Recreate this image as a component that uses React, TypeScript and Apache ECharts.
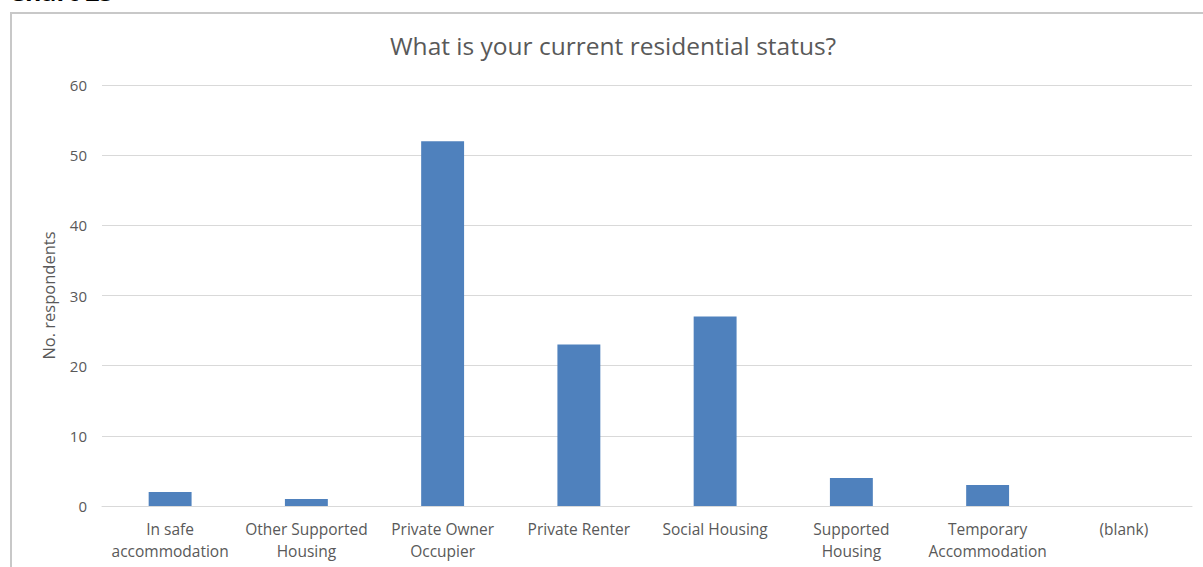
import React, { useEffect, useRef } from "react";
import * as echarts from "echarts";

const categories = [
  "In safe\naccommodation",
  "Other Supported\nHousing",
  "Private Owner\nOccupier",
  "Private Renter",
  "Social Housing",
  "Supported\nHousing",
  "Temporary\nAccommodation",
  "(blank)",
];
const respondents = [2, 1, 52, 23, 27, 4, 3, 0];
const yTicks = { min: 0, max: 60, interval: 10 };
const titleText = "What is your current residential status?";
const yAxisName = "No. respondents";
const captionText = "Chart 25";

const FONT = "'Open Sans', sans-serif";

export default function App() {
  const ref = useRef<HTMLDivElement>(null);
  useEffect(() => {
    if (!ref.current) return;
    const chart = echarts.init(ref.current, undefined, { renderer: "svg" });
    chart.setOption({
      animation: false,
      backgroundColor: "#ffffff",
      textStyle: { fontFamily: FONT },
      title: {
        text: titleText,
        left: 385,
        top: 28,
        textStyle: { fontFamily: FONT, fontSize: 24.5, fontWeight: "normal", color: "#595959" },
      },
      graphic: [
        {
          type: "rect",
          z: -1,
          shape: { x: 11, y: 13, width: 1300, height: 700 },
          style: { fill: "none", stroke: "#c8c8c8", lineWidth: 2 },
        },
        {
          type: "text",
          x: 9,
          y: 3,
          style: {
            text: captionText,
            font: "bold 25px 'Open Sans', sans-serif",
            fill: "#000000",
            verticalAlign: "bottom",
          },
        },
      ],
      grid: { left: 102, right: 11, top: 85, bottom: 61, containLabel: false },
      xAxis: {
        type: "category",
        data: categories,
        axisLine: { show: true, lineStyle: { color: "#d9d9d9", width: 1 } },
        axisTick: { show: false },
        axisLabel: {
          interval: 0,
          color: "#595959",
          fontFamily: FONT,
          fontSize: 15.5,
          lineHeight: 22,
          margin: 12,
        },
      },
      yAxis: {
        type: "value",
        min: yTicks.min,
        max: yTicks.max,
        interval: yTicks.interval,
        name: yAxisName,
        nameLocation: "middle",
        nameGap: 45,
        nameTextStyle: { color: "#595959", fontFamily: FONT, fontSize: 16.5 },
        axisLine: { show: false },
        axisTick: { show: false },
        axisLabel: { color: "#595959", fontFamily: FONT, fontSize: 15, margin: 15 },
        splitLine: { lineStyle: { color: "#d9d9d9", width: 1 } },
      },
      series: [
        {
          type: "bar",
          data: respondents,
          barWidth: "31.5%",
          itemStyle: { color: "#4f81bd" },
        },
      ],
    });
    return () => chart.dispose();
  }, []);
  return (
    <div
      ref={ref}
      style={{ position: "absolute", left: 0, top: 0, width: 1203, height: 567 }}
    />
  );
}
